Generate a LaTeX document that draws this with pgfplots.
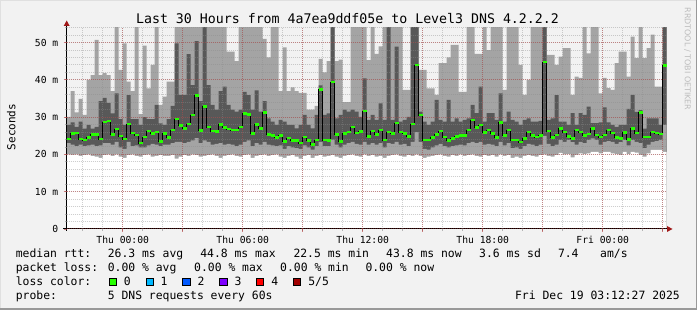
\documentclass[border=0pt]{standalone}
\usepackage{fontspec}
\setmainfont{DejaVu Sans Mono}
\newfontfamily\sansf{DejaVu Sans}
\usepackage{pgfplots}
\usepackage{pgfplotstable}
\pgfplotsset{compat=1.18}
\definecolor{bg}{HTML}{F2F2F2}
\definecolor{smokeA}{HTML}{A4A4A4}
\definecolor{smokeB}{HTML}{585858}
\definecolor{mgrid}{HTML}{B03030}
\definecolor{ngrid}{HTML}{8C8C8C}
\definecolor{arrowc}{HTML}{A01818}
\definecolor{lc0}{HTML}{26FF00}
\definecolor{lc1}{HTML}{00B8FF}
\definecolor{lc2}{HTML}{0059FF}
\definecolor{lc3}{HTML}{7E00FF}
\definecolor{lc4}{HTML}{FF0000}
\definecolor{lc5}{HTML}{A10000}
\definecolor{wm}{HTML}{BDBDBD}

% columns of 12 minutes; k = column index; p1..p5 = sorted pings (ms), p3 = median
\pgfplotstableread{
k p1 p2 p3 p4 p5
0 20.0 23.0 24.1 27.9 30.1
1 19.9 22.6 25.6 28.6 37.0
2 20.0 22.2 25.8 27.4 31.3
3 19.6 22.6 24.1 28.8 34.9
4 19.8 22.2 23.9 26.9 30.6
5 20.0 22.4 24.5 27.9 40.0
6 19.6 22.6 25.3 26.9 41.3
7 19.4 22.2 25.3 27.4 50.7
8 19.1 22.4 24.1 34.3 41.3
9 19.8 23.0 28.7 35.2 41.8
10 20.0 23.0 29.0 33.8 41.3
11 19.6 22.6 25.3 31.0 37.0
12 20.0 23.4 26.8 36.4 56
13 19.4 21.9 24.9 29.5 42.7
14 19.1 21.5 24.1 27.9 49.8
15 19.8 23.4 28.2 35.9 39.5
16 20.0 22.2 25.7 29.5 37.0
17 19.6 22.4 25.2 29.5 56
18 19.4 21.9 23.1 27.9 30.8
19 19.8 21.9 24.7 30.0 49.2
20 20.0 22.4 26.3 29.5 37.7
21 19.4 22.8 25.6 29.5 44.0
22 19.6 22.6 26.0 33.3 56
23 19.8 22.2 23.5 28.3 33.3
24 19.6 22.6 25.6 27.9 35.5
25 19.6 22.6 24.5 29.5 39.5
26 19.8 23.0 26.6 33.0 39.5
27 18.9 23.4 29.5 49.8 56
28 19.4 23.4 27.7 36.0 56
29 19.8 23.0 26.9 36.0 56
30 19.6 23.4 28.2 46.9 56
31 20.0 23.8 30.6 38.6 56
32 19.8 24.4 35.8 50.4 56
33 19.4 23.0 26.4 34.3 56
34 19.6 23.8 32.8 56 56
35 19.8 23.4 27.4 38.6 56
36 20.0 22.6 26.3 33.3 56
37 19.6 22.8 26.1 32.0 56
38 19.1 23.0 28.0 37.0 56
39 19.6 22.6 27.3 38.2 56
40 19.8 22.8 26.8 33.3 47.6
41 20.0 22.6 26.5 32.0 47.6
42 19.6 22.2 26.5 31.5 45.0
43 19.4 22.6 27.4 32.0 56
44 19.8 23.4 30.9 36.8 56
45 20.0 23.8 30.7 35.9 56
46 19.1 22.2 25.6 32.0 56
47 19.6 23.0 28.0 37.2 56
48 19.8 22.6 26.9 31.5 56
49 20.0 23.4 31.2 34.3 51.0
50 19.6 22.6 25.3 29.7 46.0
51 19.8 22.4 25.0 28.8 56
52 20.0 22.2 24.5 27.9 56
53 19.4 22.4 25.1 29.3 37.0
54 19.1 21.5 23.4 28.8 48.7
55 19.6 22.2 24.4 27.9 37.0
56 19.8 21.9 23.7 27.9 38.0
57 19.4 21.7 23.7 27.0 37.0
58 18.9 21.5 23.1 27.9 36.5
59 19.6 22.4 24.7 30.6 36.5
60 19.8 21.9 23.7 27.9 32.0
61 19.1 21.3 22.7 27.0 32.0
62 19.6 22.2 23.9 30.6 33.0
63 19.8 23.4 37.4 38.5 45.6
64 19.4 22.2 23.9 30.6 42.0
65 19.6 22.2 23.7 31.0 45.0
66 19.8 24.0 39.4 56 56
67 19.4 22.6 25.3 29.7 45.0
68 19.1 21.9 23.4 30.6 45.4
69 19.6 22.6 25.6 32.0 34.0
70 19.8 23.0 26.0 31.5 34.0
71 20.0 23.4 27.4 32.0 56
72 19.6 22.8 25.7 31.5 56
73 19.4 22.6 26.1 30.1 56
74 20.0 23.4 31.6 40.4 56
75 19.6 22.6 24.8 29.3 45.3
76 19.8 23.0 26.3 30.6 56
77 19.4 22.6 25.3 29.3 47.0
78 19.6 23.0 26.6 33.7 49.0
79 19.1 21.9 23.9 29.3 56
80 19.6 23.0 26.0 56 56
81 19.8 22.8 25.6 29.3 56
82 20.0 23.4 28.4 48.9 56
83 19.6 22.6 26.0 28.8 56
84 19.4 22.8 25.6 29.3 37.3
85 19.8 22.2 24.8 30.1 37.3
86 19.6 23.4 28.2 56 56
87 20.0 26.0 44.0 56 56
88 19.6 23.4 30.6 31.5 42.7
89 19.1 21.5 23.9 28.8 42.7
90 19.4 21.3 23.9 27.9 37.7
91 19.6 21.9 24.5 28.8 37.7
92 19.8 22.4 25.3 34.6 36.0
93 20.0 22.8 26.3 29.3 44.5
94 19.6 22.2 24.7 28.8 44.5
95 19.4 21.9 23.7 34.6 46.0
96 19.8 22.2 24.2 28.8 49.4
97 19.6 22.4 24.8 29.7 49.4
98 20.0 22.6 25.1 28.8 36.8
99 19.6 22.4 25.1 29.3 36.8
100 19.8 23.0 26.6 29.7 56
101 20.0 23.4 29.2 33.3 56
102 19.6 23.0 27.2 31.1 47.0
103 19.4 23.4 27.9 38.2 47.0
104 19.8 22.6 25.9 28.8 56
105 19.6 22.8 26.5 31.1 48.0
106 19.8 22.6 25.6 31.1 56
107 19.4 22.2 24.5 29.3 56
108 20.0 23.4 28.5 36.4 56
109 19.6 22.4 25.0 28.8 37.3
110 19.8 23.0 26.6 31.5 56
111 19.1 21.7 23.9 29.3 56
112 19.4 21.9 23.9 28.8 56
113 19.1 21.5 23.3 27.9 44.0
114 19.6 22.2 24.2 29.3 36.0
115 19.8 22.8 26.0 29.7 40.0
116 19.6 22.6 25.1 28.8 56
117 19.4 22.2 24.7 28.8 56
118 19.8 22.6 25.1 29.0 56
119 20.0 25.0 44.8 56 56
120 19.6 22.8 26.3 29.3 46.7
121 19.4 22.2 24.5 29.7 46.7
122 19.8 22.6 25.2 35.9 44.0
123 20.4 23.9 26.9 28.8 46.2
124 20.0 23.4 26.0 28.8 48.5
125 20.1 23.9 24.8 27.9 48.5
126 19.2 23.3 24.2 31.1 36.0
127 19.9 22.6 26.6 27.9 40.9
128 20.3 23.4 26.0 31.1 40.5
129 20.1 23.0 25.0 30.6 56
130 20.3 23.9 25.5 32.8 47.1
131 20.7 24.3 27.0 28.4 56
132 20.7 23.9 25.2 28.4 56
133 20.3 22.6 24.7 28.6 36.4
134 20.7 23.4 25.2 32.6 40.5
135 20.7 23.6 26.6 28.6 37.8
136 20.3 23.4 25.8 27.9 37.3
137 20.1 22.8 24.5 27.4 44.5
138 19.9 23.3 24.2 27.9 47.6
139 20.7 23.9 25.9 27.9 47.6
140 20.1 22.4 24.0 32.2 40.9
141 20.7 23.9 27.0 36.0 51.6
142 20.5 23.4 25.8 31.4 45.8
143 19.9 23.0 31.2 31.9 56
144 19.4 21.7 24.7 26.9 45.8
145 20.3 22.6 24.7 29.7 48.5
146 21.2 23.4 26.0 29.7 52.1
147 21.2 23.6 25.7 29.7 38.2
148 21.2 23.9 25.5 27.9 38.2
149 20.7 27.9 43.8 56 56
150 20.7 27.9 43.8 56 56
}\smoke

\newcommand\tickfont{\fontsize{9.7}{11}\selectfont}
\newcommand\legfont{\fontsize{11.4}{13}\selectfont}

\begin{document}
\begin{tikzpicture}[x=1pt,y=1pt]
\fill[bg] (0,0) rectangle (697,310);
\fill[white!88!black] (0,308.8) rectangle (697,310);
\fill[white!88!black] (0,0) rectangle (1.2,310);
\fill[black!40] (0,0) rectangle (697,1.5);
\fill[black!40] (695.5,0) rectangle (697,310);

\begin{axis}[
  at={(66.7pt,81pt)}, anchor=south west,
  scale only axis, width=600pt, height=201.7pt,
  xmin=-2.8, xmax=27.2, ymin=0, ymax=54.1, enlargelimits=false,
  set layers, axis on top,
  axis lines=left, axis line style={-, draw=none},
  xtick={0,3,...,27},
  xticklabels={Thu 00:00,,Thu 06:00,,Thu 12:00,,Thu 18:00,,Fri 00:00,},
  minor xtick={-2,-1,...,27},
  ytick={0,10,...,50},
  yticklabels={0,10 m,20 m,30 m,40 m,50 m},
  minor ytick={2,4,...,54},
  grid=both,
  major grid style={draw=mgrid, draw opacity=0.45, line width=1pt, dash pattern=on 1pt off 1pt},
  minor grid style={draw=ngrid, draw opacity=0.42, line width=1pt, dash pattern=on 1pt off 1pt},
  tick align=outside,
  major tick length=3pt, minor tick length=2pt,
  major tick style={draw=mgrid, draw opacity=0.6, line width=0.8pt},
  minor tick style={draw=ngrid, draw opacity=0.6, line width=0.8pt},
  xticklabel style={font=\tickfont, anchor=base, inner sep=0pt, yshift=-11.7pt},
  yticklabel style={font=\tickfont, anchor=east, inner sep=0pt, xshift=-5.2pt},
]
\addplot[const plot, fill=smokeA, draw=none] table[x expr=-2.8+0.2*\thisrow{k}, y=p5]{\smoke} \closedcycle;
\addplot[const plot, fill=smokeB, draw=none] table[x expr=-2.8+0.2*\thisrow{k}, y=p4]{\smoke} \closedcycle;
\addplot[const plot, fill=smokeA, draw=none] table[x expr=-2.8+0.2*\thisrow{k}, y=p2]{\smoke} \closedcycle;
\addplot[const plot, fill=white, draw=none] table[x expr=-2.8+0.2*\thisrow{k}, y=p1]{\smoke} \closedcycle;
\addplot[const plot, draw=black, line width=0.6pt, on layer=axis foreground] table[x expr=-2.8+0.2*\thisrow{k}, y=p3]{\smoke};
\addplot[draw=lc0, line width=2.6pt, line cap=butt, quiver={u=0.2, v=0}, -, on layer=axis foreground, skip coords between index={150}{151}] table[x expr=-2.8+0.2*\thisrow{k}, y=p3]{\smoke};
\end{axis}

% axes with arrows
\draw[black, line width=1pt] (63,81) -- (668,81);
\fill[arrowc] (667,78) -- (672.5,81) -- (667,84) -- cycle;
\draw[black, line width=1pt] (66.7,79) -- (66.7,285);
\fill[arrowc] (63.7,284) -- (66.7,289.5) -- (69.7,284) -- cycle;

% title and labels
\node[anchor=base, inner sep=0pt, font=\fontsize{13.25}{15}\selectfont] at (347.5,286) {Last 30 Hours from 4a7ea9ddf05e to Level3 DNS 4.2.2.2};
\node[rotate=90, anchor=base, inner sep=0pt, font=\fontsize{11}{12}\selectfont] at (15.5,183) {Seconds};
\node[rotate=-90, anchor=center, inner sep=0pt, text=wm, font=\sansf\fontsize{8}{9}\selectfont] at (687.5,251) {RRDTOOL / TOBI OETIKER};

% legend
\begin{scope}[every node/.style={anchor=base west, inner sep=0pt, font=\legfont}]
\node at (15.6,52) {median rtt:};
\node at (107.6,52) {26.3 ms avg};
\node at (200.1,52) {44.8 ms max};
\node at (293.3,52) {22.5 ms min};
\node at (386,52) {43.8 ms now};
\node at (479,52) {3.6 ms sd};
\node at (557.8,52) {7.4};
\node at (600,52) {am/s};
\node at (15.6,38) {packet loss:};
\node at (107.6,38) {0.00 \% avg};
\node at (194,38) {0.00 \% max};
\node at (280,38) {0.00 \% min};
\node at (365.3,38) {0.00 \% now};
\node at (15.6,24) {loss color:};
\node at (123.6,24) {0};
\node at (160.5,24) {1};
\node at (197.4,24) {2};
\node at (234.3,24) {3};
\node at (271.2,24) {4};
\node at (308.1,24) {5/5};
\node at (15.6,10) {probe:};
\node at (107.6,10) {5 DNS requests every 60s};
\node[anchor=base east] at (680,10) {Fri Dec 19 03:12:27 2025};
\end{scope}
\foreach \c [count=\i from 0] in {lc0,lc1,lc2,lc3,lc4,lc5} {
  \filldraw[fill=\c, draw=black, line width=0.8pt] (109+36.9*\i,24.4) rectangle (116.2+36.9*\i,31.6);
}
\pgfresetboundingbox
\useasboundingbox (0,0) rectangle (697,310);
\end{tikzpicture}
\end{document}
